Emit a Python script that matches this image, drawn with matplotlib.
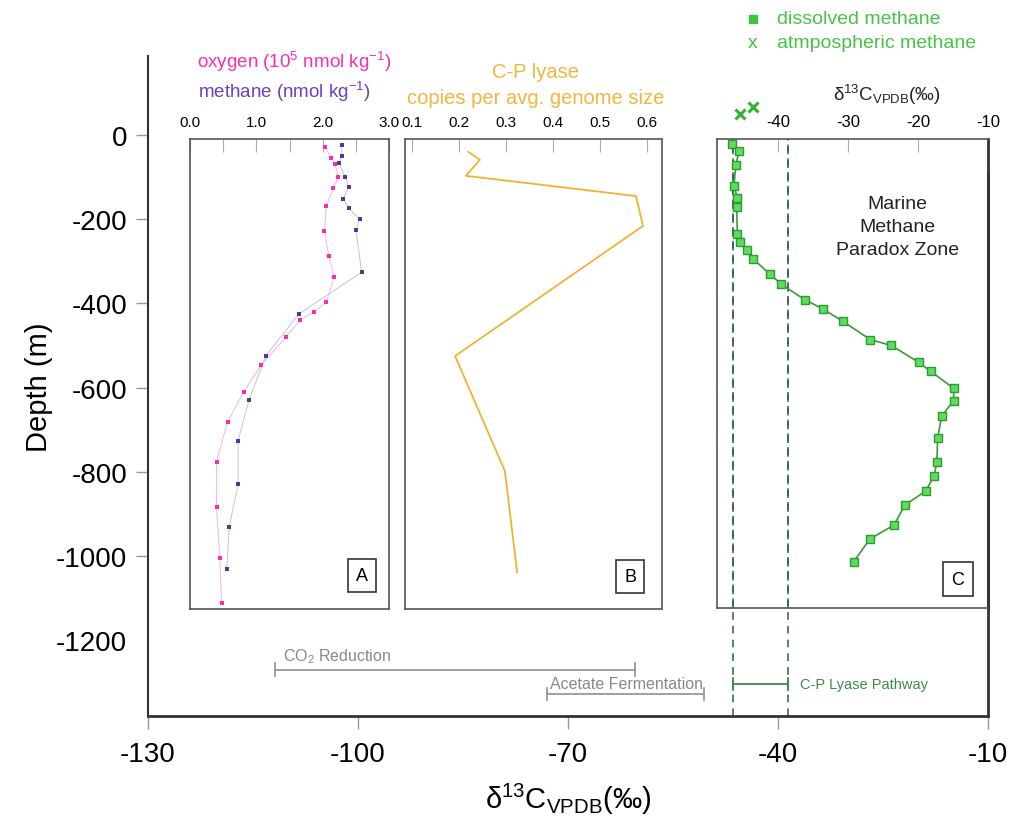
import numpy as np
import matplotlib.pyplot as plt
from matplotlib.lines import Line2D

plt.rcParams['font.family'] = ['Liberation Sans', 'DejaVu Sans']
plt.rcParams['mathtext.fontset'] = 'custom'
plt.rcParams['mathtext.rm'] = 'Liberation Sans'
plt.rcParams['mathtext.it'] = 'Liberation Sans:italic'
plt.rcParams['axes.unicode_minus'] = False

# panel A : oxygen (10^5 nmol/kg) and methane (nmol/kg)
oxy_depth = [-29, -55, -70, -100, -126, -168, -227, -287, -337, -397, -420, -439,
             -481, -546, -610, -681, -777, -884, -1005, -1112]
oxy_val = [2.04, 2.125, 2.185, 2.235, 2.16, 2.055, 2.025, 2.09, 2.17, 2.055, 1.87, 1.66,
           1.44, 1.075, 0.81, 0.565, 0.40, 0.40, 0.45, 0.475]
ch4_depth = [-23, -49, -67, -100, -123, -152, -174, -200, -225, -326, -425, -524,
             -629, -726, -829, -931, -1031]
ch4_val = [2.285, 2.285, 2.245, 2.34, 2.39, 2.31, 2.39, 2.555, 2.50, 2.585, 1.64, 1.145,
           0.89, 0.725, 0.725, 0.59, 0.555]

# panel B : C-P lyase copies per avg. genome size
cpl_depth = [-40, -59, -97, -145, -216, -525, -798, -1038]
cpl_val = [0.22, 0.245, 0.215, 0.577, 0.592, 0.192, 0.298, 0.324]

# panel C : d13C of dissolved methane
d13c_depth = [-21, -39, -71, -120, -150, -172, -235, -255, -273, -295, -330, -355,
              -391, -413, -443, -486, -500, -540, -561, -602, -631, -667, -720, -777,
              -809, -846, -879, -926, -960, -1014]
d13c_val = [-46.6, -45.6, -46.0, -46.3, -45.8, -45.9, -45.8, -45.4, -44.4, -43.5, -41.2,
            -39.5, -36.2, -33.6, -30.7, -26.8, -23.8, -19.9, -18.2, -14.9, -14.9, -16.6,
            -17.2, -17.3, -17.7, -18.9, -21.9, -23.4, -26.9, -29.2]
atm_depth = [50, 66]
atm_val = [-45.4, -43.5]

# d13C ranges of methane sources
co2_range = (-111.8, -60.4)
acet_range = (-73.0, -50.5)
cpl_range = (-46.4, -38.6)

d13c_label = 'δ$^{13}$C$_{\\mathrm{VPDB}}$(‰)'

fig = plt.figure(figsize=(10.12, 8.29), dpi=100)
W, H = 1012, 829
ax = fig.add_axes([148 / W, 1 - 717 / H, 840 / W, 660 / H])
ax.set_xlim(-130, -10)
ax.set_ylim(-1380, 187.6)

ax.spines['top'].set_visible(False)
ax.spines['right'].set_bounds(-1380, -93)
ax.spines['right'].set_linewidth(2)
ax.spines['left'].set_linewidth(1.5)
ax.spines['bottom'].set_linewidth(2)
for s in ['left', 'bottom', 'right']:
    ax.spines[s].set_color('#333333')

ax.set_xticks([-130, -100, -70, -40, -10])
ax.set_yticks([0, -200, -400, -600, -800, -1000, -1200])
ax.yaxis.get_major_ticks()[-1].tick1line.set_visible(False)
ax.tick_params(axis='both', labelsize=20, color='#999999', direction='out',
               length=9, width=1, pad=6)
ax.tick_params(axis='x', pad=9)
ax.set_xlabel(d13c_label, fontsize=21, labelpad=10)
ax.set_ylabel('Depth (m)', fontsize=21, labelpad=2)

# dashed lines of C-P lyase range
ax.vlines(cpl_range, -1380, -9.5, colors='#2f5d50', linestyles=(0, (5, 4)), lw=1.1)


def bracket(x0, x1, y, color, cap=15):
    ax.plot([x0, x1], [y, y], color=color, lw=1.3)
    ax.plot([x0, x0], [y - cap, y + cap], color=color, lw=1.3)
    ax.plot([x1, x1], [y - cap, y + cap], color=color, lw=1.3)


bracket(co2_range[0], co2_range[1], -1270, '#999999')
bracket(acet_range[0], acet_range[1], -1328, '#999999')
bracket(cpl_range[0], cpl_range[1], -1304, '#3d8b4a')
ax.text(-110.7, -1237, 'CO$_2$ Reduction', fontsize=11.5, color='#888888', va='center')
ax.text(-72.5, -1303, 'Acetate Fermentation', fontsize=11.5, color='#888888', va='center')
ax.text(-36.8, -1304, 'C-P Lyase Pathway', fontsize=10.5, color='#3d8b4a', va='center')

# atmospheric methane
ax.plot(atm_val, atm_depth, 'x', color='#33b533', ms=7, mew=2.2, clip_on=False)


def panel(x0, x1, y0=-1126, y1=-9.5):
    p = ax.inset_axes([x0, y0, x1 - x0, y1 - y0], transform=ax.transData)
    p.set_facecolor('none')
    p.set_ylim(y0, y1)
    p.set_yticks([])
    for s in p.spines.values():
        s.set_color('#555555')
        s.set_linewidth(1.2)
    p.xaxis.tick_top()
    p.tick_params(axis='x', direction='in', length=9, color='#aaaaaa',
                  labelsize=11, pad=7)
    return p


def box_label(p, x, y, s):
    p.text(x, y, s, transform=p.transAxes, fontsize=13, ha='center', va='center',
           bbox=dict(boxstyle='square,pad=0.45', fc='white', ec='#333333', lw=1.2))


# panel A
pa = panel(-124.0, -95.55)
pa.set_xlim(0, 3.0)
pa.set_xticks(np.arange(0, 3.01, 0.5))
pa.set_xticklabels(['0.0', '', '1.0', '', '2.0', '', '3.0'])
pa.plot(oxy_val, oxy_depth, '-', color='#f9b3df', lw=0.7)
pa.plot(ch4_val, ch4_depth, '-', color='#c8c0dc', lw=0.7)
pa.plot(oxy_val, oxy_depth, 's', color='#ff2aae', ms=3.4, mew=0)
pa.plot(ch4_val, ch4_depth, 's', color='#4b3a9c', ms=3.4, mew=0)
box_label(pa, 0.864, 0.072, 'A')

# panel B
pb = panel(-93.27, -56.53)
pb.set_xlim(0.0857, 0.633)
pb.set_xticks([0.1, 0.2, 0.3, 0.4, 0.5, 0.6])
pb.set_xticklabels(['0.1', '0.2', '0.3', '0.4', '0.5', '0.6'])
pb.plot(cpl_val, cpl_depth, '-', color='#f2b233', lw=1.3)
box_label(pb, 0.875, 0.07, 'B')

# panel C
pc = panel(-48.67, -10.0, y0=-1124)
pc.set_xlim(-48.67, -10.0)
pc.set_xticks([-40, -30, -20, -10])
pc.tick_params(axis='x', labelsize=12)
pc.vlines(cpl_range, -1124, -9.5, colors='#2f5d50', linestyles=(0, (5, 4)), lw=1.1)
pc.plot(d13c_val, d13c_depth, '-', color='#3a9a3a', lw=1.2)
pc.plot(d13c_val, d13c_depth, 's', mfc='#5fdc5f', mec='#2e9a2e', ms=6, mew=1)
pc.spines['right'].set_linewidth(2)
pc.spines['right'].set_color('#333333')
box_label(pc, 0.889, 0.062, 'C')
pc.text(0.667, 0.814, 'Marine\nMethane\nParadox Zone', transform=pc.transAxes,
        fontsize=14, ha='center', va='center', color='#222222', linespacing=1.45)

# headers
fig.text(197 / W, 1 - 62 / H, 'oxygen (10$^5$ nmol kg$^{-1}$)', fontsize=13.5,
         color='#ff2ab4', va='center')
fig.text(198 / W, 1 - 92 / H, 'methane (nmol kg$^{-1}$)', fontsize=13.5,
         color='#6a3fc0', va='center')
fig.text(536 / W, 1 - 72 / H, 'C-P lyase', fontsize=14.5, color='#f5b53d',
         ha='center', va='center')
fig.text(536 / W, 1 - 98 / H, 'copies per avg. genome size', fontsize=14.5,
         color='#f5b53d', ha='center', va='center')
fig.text(887 / W, 1 - 95 / H, d13c_label, fontsize=13.5,
         color='#222222', ha='center', va='center')

# legend
fig.add_artist(Line2D([753 / W], [1 - 20 / H], marker='s', color='#3cc43c', ms=6,
                      transform=fig.transFigure))
fig.text(753 / W, 1 - 43 / H, 'x', fontsize=14, color='#3cc43c', ha='center',
         va='center')
fig.text(777 / W, 1 - 20 / H, 'dissolved methane', fontsize=14, color='#45c445',
         va='center')
fig.text(777 / W, 1 - 43 / H, 'atmpospheric methane', fontsize=14, color='#45c445',
         va='center')

fig.savefig('out.png', dpi=100)
